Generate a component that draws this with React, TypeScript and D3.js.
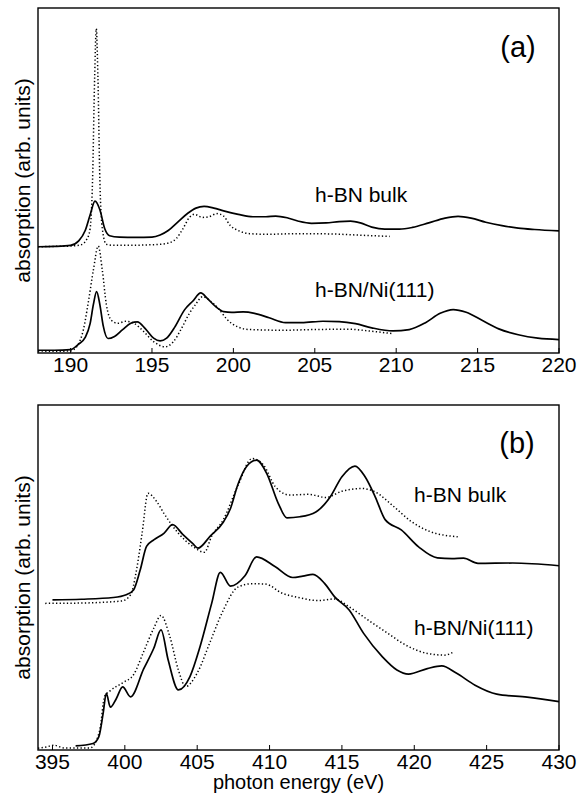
import React from "react";
import * as d3 from "d3";

type Pt = [number, number];

// Panel (a): B K-edge region, energies in eV, absorption in arb. units
const aTicks = [190, 195, 200, 205, 210, 215, 220];
const bTicks = [395, 400, 405, 410, 415, 420, 425, 430];

const aBulkSolid: Pt[] = [
  [188, 30.8], [189, 30.9], [190, 31.2], [190.5, 32.5], [190.9, 35.5], [191.2, 40], [191.5, 44],
  [191.8, 41.5], [192.1, 36], [192.4, 34], [193, 33.6], [194, 33.5], [195, 33.6], [195.5, 34.2],
  [196, 35.5], [196.6, 38], [197.2, 40.5], [197.7, 42], [198.2, 42.5], [198.8, 42], [199.4, 41.2],
  [200.3, 40.2], [201.2, 39.5], [202, 39.5], [202.6, 39.7], [203.3, 39.2], [204, 38.2], [204.8, 37.6],
  [205.7, 37.7], [206.5, 38.1], [207.2, 38.2], [207.8, 37.7], [208.5, 36.5], [209.3, 35.9],
  [210.2, 35.9], [211, 36.4], [212, 37.7], [213, 39.1], [213.8, 39.6], [214.6, 39.1], [215.5, 37.9],
  [216.5, 36.9], [217.5, 36.2], [218.5, 35.8], [220, 35.4],
];
const aBulkDotted: Pt[] = [
  [188, 30.8], [189, 30.9], [190, 31], [190.6, 31.3], [191, 33], [191.2, 36], [191.35, 50],
  [191.48, 80], [191.58, 94], [191.68, 80], [191.8, 50], [191.95, 36], [192.2, 31.5], [192.6, 31.2],
  [193.5, 31.2], [194.5, 31.3], [195.5, 31.5], [196.1, 32], [196.5, 33.2], [196.9, 36], [197.3, 39.3],
  [197.6, 40.2], [198.1, 39.3], [198.5, 39.5], [199, 40.4], [199.4, 39.7], [199.8, 37], [200.3, 35.5],
  [201, 34.6], [202, 34.4], [204, 34.6], [206, 34.5], [208, 34.1], [209.6, 33.8],
];
const aNiSolid: Pt[] = [
  [188, 0.8], [189, 0.8], [190, 1], [190.5, 2.6], [190.9, 4.5], [191.2, 8.5], [191.4, 14],
  [191.6, 17.8], [191.8, 14], [192, 8], [192.3, 4.2], [192.7, 4.8], [193.2, 6.8], [193.7, 8.6],
  [194.1, 9], [194.6, 7], [195.1, 4.3], [195.5, 3.5], [195.9, 4.3], [196.4, 7.5], [197, 12.5],
  [197.5, 15], [198, 17.4], [198.4, 15.8], [198.9, 13.5], [199.4, 12], [199.9, 11.8], [200.6, 11.9],
  [201.3, 11.5], [202.2, 10.2], [203.2, 8.8], [204.2, 8.8], [205.5, 9.2], [206.5, 9.1], [207.5, 8.5],
  [208.5, 7.3], [209.8, 6.4], [210.8, 6.8], [211.8, 8.8], [212.7, 11.5], [213.5, 12.6], [214.3, 11.8],
  [215.3, 9.4], [216.3, 7], [217.5, 5.3], [218.7, 4.3], [220, 3.9],
];
const aNiDotted: Pt[] = [
  [188, 0.6], [189, 0.5], [190, 0.6], [190.4, 2], [190.8, 7], [191.1, 15], [191.4, 24], [191.7, 31],
  [191.95, 24], [192.2, 14], [192.5, 9.5], [192.9, 8.6], [193.4, 9.2], [193.9, 8.6], [194.5, 6.2],
  [195.1, 3.3], [195.8, 1.8], [196.3, 3.2], [196.8, 7], [197.3, 11.5], [197.7, 14.2], [198.1, 16.3],
  [198.6, 15], [199.1, 12.8], [199.6, 9.8], [200.3, 7.5], [201, 6.8], [203, 6.6], [205, 6.8],
  [207, 6.9], [208.5, 6.3], [209.8, 5.6],
];

// Panel (b): N K-edge region
const bBulkSolid: Pt[] = [
  [395, 43.5], [397, 43.7], [399.2, 44.2], [400.1, 45], [400.6, 46.4], [401.05, 52], [401.5, 59],
  [402, 60.9], [402.7, 62.8], [403.3, 65.3], [404, 62.5], [404.7, 59.8], [405.05, 58.5], [405.9, 62],
  [406.8, 66], [407.3, 70], [407.8, 76.8], [408.4, 82.1], [409.1, 84], [409.8, 80.2], [410.6, 71.5],
  [411.2, 67.3], [412.1, 67.6], [413.2, 69], [414.2, 73.4], [415, 79.2], [415.9, 82.3], [416.6, 79.2],
  [417.3, 73.4], [418, 66.7], [419.1, 63.8], [420.3, 58.9], [421.6, 55.7], [422.6, 55.5], [423.4, 55.6],
  [424.4, 54.1], [426.8, 54.2], [430, 53.4],
];
const bBulkDotted: Pt[] = [
  [394.5, 42.5], [397, 42.6], [399.8, 43.2], [400.4, 45], [400.8, 52], [401.2, 63], [401.6, 74.4],
  [402.2, 72], [402.7, 68.6], [403.7, 62.8], [404.7, 59], [405.5, 57.3], [406, 62], [406.8, 66.7],
  [407.8, 76.5], [408.8, 84.5], [409.6, 82.5], [410.4, 76.3], [411.4, 73.9], [412.7, 74.1],
  [413.9, 73.2], [415, 75], [416.4, 75.8], [417.3, 74.8], [418.6, 70.5], [419.8, 66.2], [421.1, 63.3],
  [423, 61.8],
];
const bNiSolid: Pt[] = [
  [396.6, 1.2], [397.8, 1.9], [398.2, 3.8], [398.5, 10.6], [398.72, 16.4], [399, 12.4], [399.4, 14.8],
  [399.85, 18.3], [400.4, 15.4], [401.3, 23.5], [402, 29.5], [402.5, 34.8], [403, 26], [403.7, 17.4],
  [404.5, 21.3], [405.2, 30], [406, 42.5], [406.6, 51.5], [407.3, 47.5], [408.3, 50.5], [409.1, 56],
  [410.4, 53.1], [411.6, 50], [412.3, 50.4], [413, 50.9], [413.8, 48.3], [414.5, 44.4], [415.5, 40.6],
  [416.5, 33.8], [417.8, 27], [418.8, 23.2], [419.6, 22], [420.9, 23.6], [421.9, 24.4], [422.9, 22.3],
  [424.2, 18.8], [425.7, 16.2], [427.8, 15.3], [430, 14],
];
const bNiDotted: Pt[] = [
  [394, 0.5], [394.6, 0.9], [395.1, 1.4], [395.8, 0.6], [397.6, 0.6], [398, 2.4], [398.3, 6.5],
  [398.6, 15.5], [399, 17.2], [399.9, 19.6], [400.6, 21.8], [401.3, 28.5], [402, 35.3], [402.5, 39],
  [403.1, 33], [403.7, 23.2], [404.2, 18.4], [405, 22.3], [405.9, 31.4], [406.8, 40.5], [407.8, 47.2],
  [408.8, 48.2], [409.7, 48.1], [410.9, 45.4], [411.9, 44.3], [413.4, 43.3], [414.5, 43.8],
  [415.5, 41.5], [416.8, 37.7], [418, 34.3], [419.6, 30], [420.9, 28], [422.1, 27.5], [422.7, 28.4],
];

const FONT = "'Liberation Sans', Arial, Helvetica, sans-serif";

type PanelProps = {
  top: number;
  domain: [number, number];
  ticks: number[];
  tag: string;
  bulkSolid: Pt[];
  bulkDotted: Pt[];
  niSolid: Pt[];
  niDotted: Pt[];
  labelBulk: [number, number];
  labelNi: [number, number];
  tagPos: [number, number];
};

const LEFT = 38;
const RIGHT = 559;
const H = 345;

function Panel(p: PanelProps) {
  const x = d3.scaleLinear().domain(p.domain).range([LEFT, RIGHT]);
  const y = d3.scaleLinear().domain([0, 100]).range([p.top + H, p.top]);
  const line = d3
    .line<Pt>()
    .x((d) => x(d[0]))
    .y((d) => y(d[1]))
    .curve(d3.curveMonotoneX);
  const bottom = p.top + H;
  const solid = { fill: "none", stroke: "#000", strokeWidth: 1.7 };
  const dotted = { fill: "none", stroke: "#000", strokeWidth: 1.5, strokeDasharray: "1.3 2.3" };
  return (
    <g>
      <path d={line(p.bulkDotted) || ""} {...dotted} />
      <path d={line(p.niDotted) || ""} {...dotted} />
      <path d={line(p.bulkSolid) || ""} {...solid} />
      <path d={line(p.niSolid) || ""} {...solid} />
      <rect x={LEFT} y={p.top} width={RIGHT - LEFT} height={H} fill="none" stroke="#000" strokeWidth={1.4} />
      {p.ticks.map((t) => (
        <g key={t}>
          <line x1={x(t)} x2={x(t)} y1={bottom} y2={bottom - 5} stroke="#000" strokeWidth={1} />
          <text x={x(t)} y={bottom + 19} fontSize={21} textAnchor="middle" fontFamily={FONT}>
            {t}
          </text>
        </g>
      ))}
      <text
        transform={`translate(30,${p.top + H / 2}) rotate(-90)`}
        fontSize={21}
        textAnchor="middle"
        fontFamily={FONT}
      >
        absorption (arb. units)
      </text>
      <text x={p.tagPos[0]} y={p.tagPos[1]} fontSize={29} textAnchor="middle" fontFamily={FONT}>
        {p.tag}
      </text>
      <text x={p.labelBulk[0]} y={p.labelBulk[1]} fontSize={21} fontFamily={FONT}>
        h-BN bulk
      </text>
      <text x={p.labelNi[0]} y={p.labelNi[1]} fontSize={21} fontFamily={FONT}>
        h-BN/Ni(111)
      </text>
    </g>
  );
}

export default function App() {
  return (
    <svg
      width={582}
      height={800}
      style={{ position: "absolute", left: 0, top: 0, background: "#fff" }}
    >
      <Panel
        top={8}
        domain={[188, 220]}
        ticks={aTicks}
        tag="(a)"
        bulkSolid={aBulkSolid}
        bulkDotted={aBulkDotted}
        niSolid={aNiSolid}
        niDotted={aNiDotted}
        labelBulk={[315, 202]}
        labelNi={[315, 297]}
        tagPos={[518, 57]}
      />
      <Panel
        top={405}
        domain={[394, 430]}
        ticks={bTicks}
        tag="(b)"
        bulkSolid={bBulkSolid}
        bulkDotted={bBulkDotted}
        niSolid={bNiSolid}
        niDotted={bNiDotted}
        labelBulk={[414, 502]}
        labelNi={[414, 635]}
        tagPos={[517, 453]}
      />
      <text x={298.5} y={789} fontSize={20} textAnchor="middle" fontFamily={FONT}>
        photon energy (eV)
      </text>
    </svg>
  );
}
